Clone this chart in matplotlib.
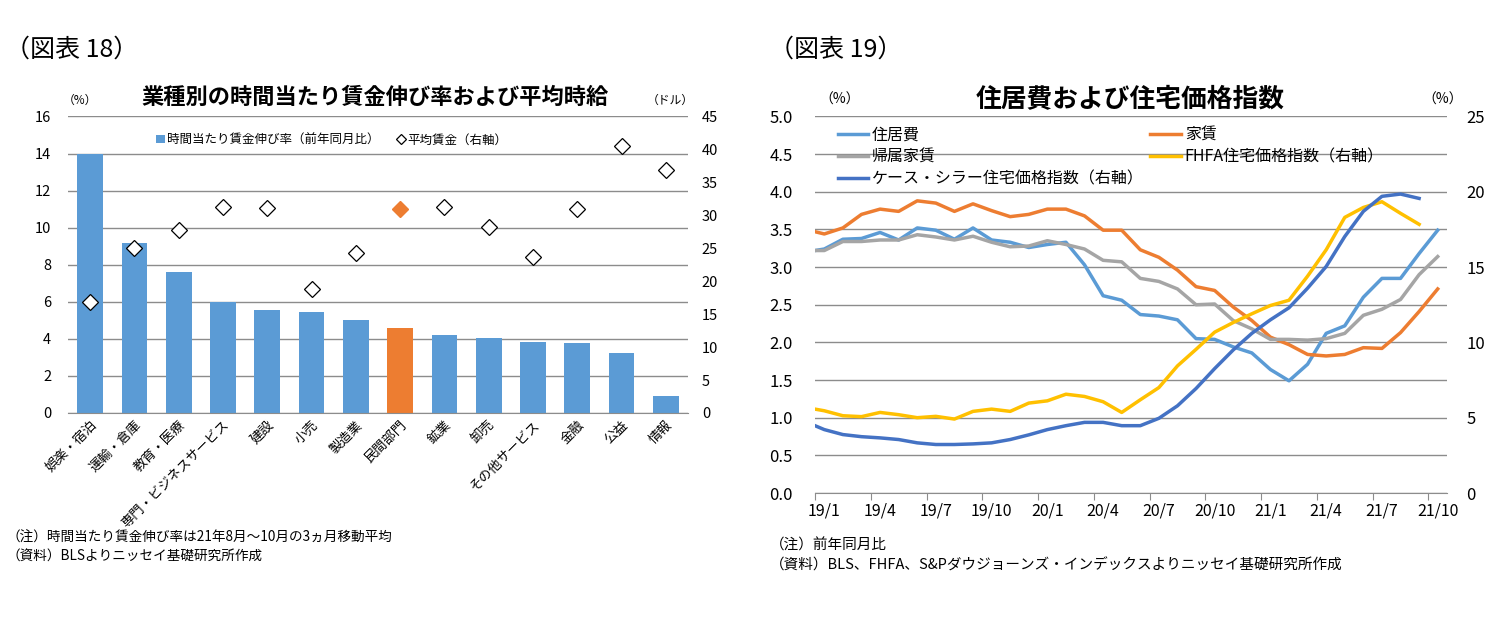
import numpy as np
import matplotlib
matplotlib.use('Agg')
import matplotlib.pyplot as plt

plt.rcParams['font.family'] = ['Noto Sans CJK JP', 'DejaVu Sans']

# --- 図表18 data ---
categories = ['娯楽・宿泊', '運輸・倉庫', '教育・医療', '専門・ビジネスサービス', '建設', '小売',
              '製造業', '民間部門', '鉱業', '卸売', 'その他サービス', '金融', '公益', '情報']
wage_growth = [14.0, 9.17, 7.6, 6.0, 5.58, 5.45, 5.04, 4.6, 4.2, 4.06, 3.83, 3.8, 3.26, 0.92]
avg_wage = [16.9, 25.0, 27.8, 31.3, 31.1, 18.8, 24.3, 31.0, 31.3, 28.2, 23.7, 31.0, 40.5, 36.9]
highlight = '民間部門'

# --- 図表19 data (monthly, 18/12 .. 21/10) ---
tick_labels = ['19/1', '19/4', '19/7', '19/10', '20/1', '20/4', '20/7', '20/10',
               '21/1', '21/4', '21/7', '21/10']
shelter = [3.20, 3.24, 3.37, 3.38, 3.46, 3.36, 3.52, 3.49, 3.37, 3.52, 3.36, 3.33,
           3.26, 3.30, 3.33, 3.03, 2.62, 2.56, 2.37, 2.35, 2.30, 2.05, 2.04, 1.94,
           1.86, 1.64, 1.49, 1.71, 2.12, 2.22, 2.60, 2.85, 2.85, 3.18, 3.49]
rent = [3.50, 3.44, 3.52, 3.70, 3.77, 3.74, 3.88, 3.85, 3.74, 3.84, 3.75, 3.67,
        3.70, 3.77, 3.77, 3.68, 3.49, 3.49, 3.23, 3.13, 2.96, 2.74, 2.69, 2.47,
        2.29, 2.07, 1.97, 1.84, 1.82, 1.84, 1.93, 1.92, 2.13, 2.41, 2.71]
oer = [3.22, 3.22, 3.34, 3.34, 3.36, 3.36, 3.43, 3.40, 3.36, 3.41, 3.33, 3.27,
       3.28, 3.35, 3.30, 3.24, 3.09, 3.07, 2.85, 2.81, 2.71, 2.50, 2.51, 2.29,
       2.18, 2.04, 2.04, 2.03, 2.05, 2.12, 2.36, 2.44, 2.57, 2.90, 3.14]
fhfa = [5.68, 5.46, 5.13, 5.07, 5.35, 5.20, 5.00, 5.09, 4.91, 5.42, 5.57, 5.42,
        5.97, 6.12, 6.56, 6.41, 6.06, 5.35, 6.19, 7.00, 8.44, 9.54, 10.68, 11.32,
        11.90, 12.45, 12.80, 14.40, 16.15, 18.30, 18.96, 19.34, 18.57, 17.84]
case_shiller = [4.73, 4.21, 3.88, 3.74, 3.66, 3.55, 3.33, 3.22, 3.22, 3.26, 3.33, 3.55,
                3.86, 4.21, 4.47, 4.69, 4.69, 4.47, 4.47, 4.96, 5.79, 6.94, 8.26, 9.50,
                10.60, 11.50, 12.30, 13.60, 15.04, 17.03, 18.70, 19.70, 19.85, 19.56]

W, H = 1509, 618
GRID = '#8c8c8c'


def fx(px):
    return px / W


def fy(py):
    return 1 - py / H


fig = plt.figure(figsize=(W / 100, H / 100), dpi=100)

# ================= 図表18 =================
ax1 = fig.add_axes([fx(68), fy(413), fx(688) - fx(68), fy(116.5) - fy(413)])
x = np.arange(len(categories))
colors = ['#ED7D31' if c == highlight else '#5B9BD5' for c in categories]
bars = ax1.bar(x, wage_growth, width=0.58, color=colors, zorder=2)
ax1.set_xlim(-0.5, len(categories) - 0.5)
ax1.set_ylim(0, 16)
ax1.set_yticks(range(0, 17, 2))
ax1.grid(axis='y', color=GRID, lw=1)
ax1.set_axisbelow(True)
for s in ['left', 'right', 'top']:
    ax1.spines[s].set_visible(False)
ax1.spines['bottom'].set_color(GRID)
ax1.tick_params(axis='both', length=0, labelsize=10.5)
ax1.tick_params(axis='y', pad=12)
ax1.set_xticks(x)
ax1.set_xticklabels(categories, rotation=45, ha='right', va='top',
                    rotation_mode='anchor', fontsize=9.5)
ax1.tick_params(axis='x', pad=4)

ax1r = ax1.twinx()
ax1r.set_ylim(0, 45)
ax1r.set_yticks(range(0, 46, 5))
ax1r.tick_params(axis='y', length=0, labelsize=10.5, pad=10)
for s in ax1r.spines.values():
    s.set_visible(False)
wage_arr = np.array(avg_wage)
mask = np.array([c == highlight for c in categories])
dia, = ax1r.plot(x[~mask], wage_arr[~mask], ls='none', marker='D', ms=8.5,
                 mfc='white', mec='black', mew=0.9, zorder=3)
ax1r.plot(x[mask], wage_arr[mask], ls='none', marker='D', ms=8.5,
          mfc='#ED7D31', mec='#ED7D31', zorder=3)
ax1r.legend([bars, dia], ['時間当たり賃金伸び率（前年同月比）', '平均賃金（右軸）'],
            loc='center left', bbox_to_anchor=(0.142, 0.921), ncol=2,
            frameon=False, fontsize=9, handlelength=0.7, handleheight=0.7,
            handletextpad=0.15, columnspacing=1.4, markerscale=0.6,
            borderpad=0, borderaxespad=0)

fig.text(fx(375), fy(97), '業種別の時間当たり賃金伸び率および平均時給',
         ha='center', va='center', fontsize=16, fontweight='bold')
fig.text(fx(80), fy(100), '（%）', ha='center', va='center', fontsize=8.5)
fig.text(fx(670), fy(100), '（ドル）', ha='center', va='center', fontsize=8.5)
fig.text(fx(5), fy(50), '（図表 18）', ha='left', va='center', fontsize=18)
fig.text(fx(6), fy(538), '（注）時間当たり賃金伸び率は21年8月～10月の3ヵ月移動平均',
         ha='left', va='center', fontsize=9.8)
fig.text(fx(6), fy(557), '（資料）BLSよりニッセイ基礎研究所作成',
         ha='left', va='center', fontsize=9.8)

# ================= 図表19 =================
ax2 = fig.add_axes([fx(815), fy(493), fx(1447) - fx(815), fy(116.5) - fy(493)])
xl = np.arange(len(shelter)) - 0.5
xr = np.arange(len(fhfa)) - 0.5
l_shelter, = ax2.plot(xl, shelter, color='#5B9BD5', lw=2.5)
l_rent, = ax2.plot(xl, rent, color='#ED7D31', lw=2.5)
l_oer, = ax2.plot(xl, oer, color='#A5A5A5', lw=2.5)
ax2.set_xlim(0, 34)
ax2.set_ylim(0, 5)
ax2.set_yticks(np.arange(0, 5.01, 0.5))
ax2.set_yticklabels(['%.1f' % v for v in np.arange(0, 5.01, 0.5)])
ax2.grid(axis='y', color=GRID, lw=1)
ax2.set_axisbelow(True)
for s in ['left', 'right', 'top']:
    ax2.spines[s].set_visible(False)
ax2.spines['bottom'].set_color(GRID)
tick_pos = np.arange(len(tick_labels)) * 3
ax2.set_xticks(tick_pos)
ax2.set_xticklabels([])
ax2.set_xticks(tick_pos + 0.5, minor=True)
ax2.set_xticklabels(tick_labels, minor=True)
ax2.tick_params(axis='x', which='major', direction='out', length=5, color=GRID)
ax2.tick_params(axis='x', which='minor', length=0, labelsize=11.5, pad=7)
ax2.tick_params(axis='y', length=0, labelsize=12, pad=16)

ax2r = ax2.twinx()
l_fhfa, = ax2r.plot(xr, fhfa, color='#FFC000', lw=2.5)
l_cs, = ax2r.plot(xr, case_shiller, color='#4472C4', lw=2.5)
ax2r.set_ylim(0, 25)
ax2r.set_yticks(range(0, 26, 5))
ax2r.tick_params(axis='y', length=0, labelsize=12, pad=14)
for s in ax2r.spines.values():
    s.set_visible(False)
ax2r.legend([l_shelter, l_oer, l_cs, l_rent, l_fhfa],
            ['住居費', '帰属家賃', 'ケース・シラー住宅価格指数（右軸）', '家賃', 'FHFA住宅価格指数（右軸）'],
            loc='upper left', bbox_to_anchor=(0.036, 0.972), ncol=2, frameon=False,
            fontsize=11.5, handlelength=1.9, handletextpad=0.25, labelspacing=0.3,
            columnspacing=0.4, borderpad=0, borderaxespad=0)

fig.text(fx(1130), fy(100), '住居費および住宅価格指数', ha='center', va='center',
         fontsize=18.5, fontweight='bold')
fig.text(fx(840), fy(100), '（%）', ha='center', va='center', fontsize=10)
fig.text(fx(1443), fy(100), '（%）', ha='center', va='center', fontsize=10)
fig.text(fx(769), fy(50), '（図表 19）', ha='left', va='center', fontsize=18)
fig.text(fx(770), fy(545), '（注）前年同月比', ha='left', va='center', fontsize=10.5)
fig.text(fx(770), fy(565), '（資料）BLS、FHFA、S&Pダウジョーンズ・インデックスよりニッセイ基礎研究所作成',
         ha='left', va='center', fontsize=10.5)

fig.savefig('out.png', dpi=100)
